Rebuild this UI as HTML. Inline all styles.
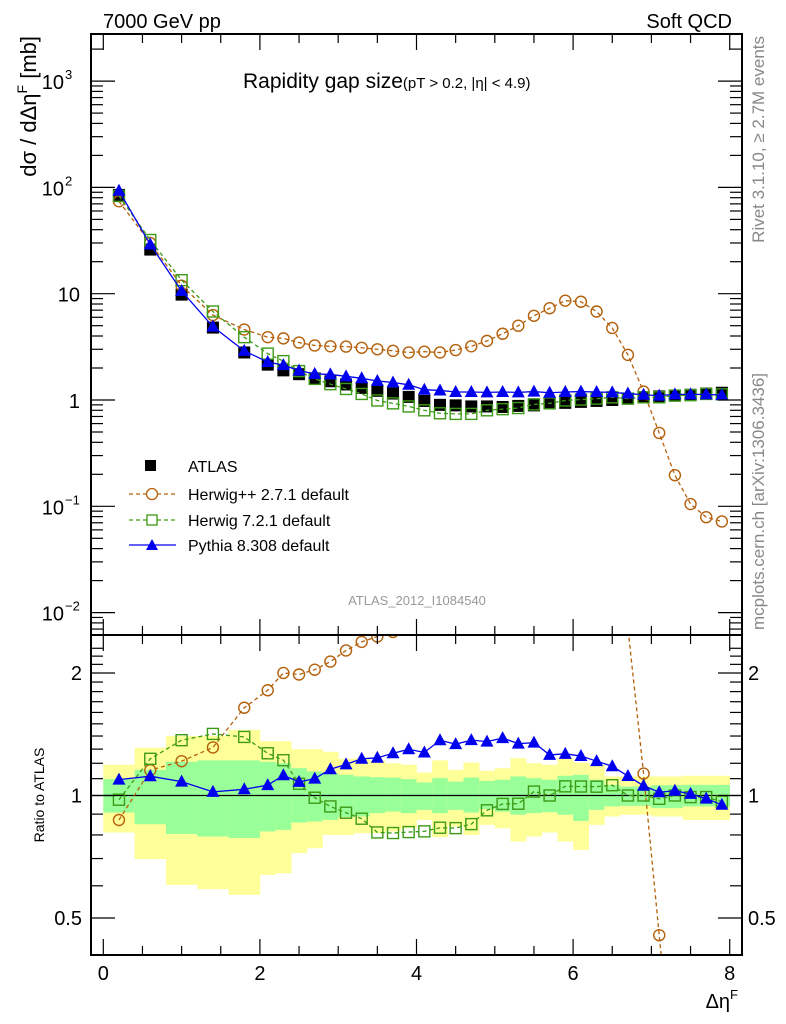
<!DOCTYPE html>
<html><head><meta charset="utf-8"><style>
html,body{margin:0;padding:0;background:#fff;width:786px;height:1024px;overflow:hidden;}
svg{display:block;font-family:"Liberation Sans",sans-serif;}
</style></head><body>
<svg id="chart" width="786" height="1024" viewBox="0 0 786 1024" xmlns="http://www.w3.org/2000/svg">
<rect x="0" y="0" width="786" height="1024" fill="#fff"/>
<g id="bands"></g>
<g id="marks"></g>
<g id="axes"></g>
<text x="103" y="28" font-size="20">7000 GeV pp</text>
<text x="732" y="28" font-size="20" text-anchor="end">Soft QCD</text>
<text x="243" y="88" font-size="21">Rapidity gap size<tspan font-size="15">(pT &gt; 0.2, |η| &lt; 4.9)</tspan></text>
<text transform="translate(36,36) rotate(-90)" font-size="22" text-anchor="end">dσ / dΔη<tspan dy="-9" font-size="14">F</tspan><tspan dy="9"> [mb]</tspan></text>
<text transform="translate(44,795) rotate(-90)" font-size="14" text-anchor="middle">Ratio to ATLAS</text>
<text x="738" y="1008" font-size="20" text-anchor="end">Δη<tspan dy="-9" font-size="13">F</tspan></text>
<text transform="translate(764,36) rotate(-90)" font-size="17" fill="#888" text-anchor="end">Rivet 3.1.10, ≥ 2.7M events</text>
<text transform="translate(764,630) rotate(-90)" font-size="17" fill="#888" text-anchor="start">mcplots.cern.ch [arXiv:1306.3436]</text>
<text x="417" y="605" font-size="13" fill="#999" text-anchor="middle">ATLAS_2012_I1084540</text>
<g id="legend">
<rect x="145" y="460" width="11" height="11" fill="#000"/>
<text x="188" y="472" font-size="16">ATLAS</text>
<line x1="129" y1="494" x2="176" y2="494" stroke="#b5600b" stroke-dasharray="4,3" stroke-width="1.3"/>
<circle cx="152" cy="494" r="5.5" fill="#fff" stroke="#b5600b" stroke-width="1.3"/>
<text x="188" y="500" font-size="16">Herwig++ 2.7.1 default</text>
<line x1="129" y1="520" x2="176" y2="520" stroke="#3c9a16" stroke-dasharray="4,3" stroke-width="1.3"/>
<rect x="147" y="515" width="10" height="10" fill="#fff" stroke="#3c9a16" stroke-width="1.3"/>
<text x="188" y="526" font-size="16">Herwig 7.2.1 default</text>
<line x1="129" y1="545" x2="176" y2="545" stroke="#0000ee" stroke-width="1.3"/>
<polygon points="152,539 158,550 146,550" fill="#0000ee"/>
<text x="188" y="551" font-size="16">Pythia 8.308 default</text>
</g>
</svg>
<script>
const xCenters=[0.2,0.6,1.0,1.4,1.8,2.1,2.3,2.5,2.7,2.9,3.1,3.3,3.5,3.7,3.9,4.1,4.3,4.5,4.7,4.9,5.1,5.3,5.5,5.7,5.9,6.1,6.3,6.5,6.7,6.9,7.1,7.3,7.5,7.7,7.9];
const binEdges=[0,0.4,0.8,1.2,1.6,2.0,2.2,2.4,2.6,2.8,3.0,3.2,3.4,3.6,3.8,4.0,4.2,4.4,4.6,4.8,5.0,5.2,5.4,5.6,5.8,6.0,6.2,6.4,6.6,6.8,7.0,7.2,7.4,7.6,7.8,8.0];
const atlas=[85,26,9.8,4.8,2.8,2.15,1.9,1.75,1.6,1.5,1.4,1.3,1.22,1.15,1.07,0.98,0.9,0.89,0.87,0.87,0.86,0.88,0.89,0.93,0.94,0.96,0.98,1.0,1.03,1.06,1.08,1.1,1.12,1.15,1.17];
const herwigpp=[74,30,11.9,6.3,4.6,3.9,3.8,3.47,3.26,3.2,3.18,3.1,3.0,2.9,2.8,2.85,2.8,2.95,3.2,3.6,4.2,5.0,6.2,7.3,8.6,8.4,6.8,4.76,2.66,1.2,0.49,0.196,0.105,0.079,0.072];
const herwig7=[83,32,13.4,6.8,3.9,2.73,2.32,1.87,1.58,1.41,1.27,1.14,0.99,0.93,0.87,0.8,0.75,0.74,0.74,0.8,0.82,0.84,0.91,0.93,0.99,1.01,1.03,1.06,1.03,1.06,1.06,1.1,1.11,1.14,1.13];
const pythia=[93,29,10.6,4.9,2.9,2.28,2.13,1.89,1.76,1.74,1.67,1.6,1.51,1.46,1.39,1.25,1.23,1.19,1.19,1.18,1.19,1.18,1.2,1.17,1.19,1.2,1.19,1.18,1.15,1.12,1.1,1.13,1.13,1.13,1.11];
const yellowHi=[1.19,1.31,1.40,1.40,1.45,1.36,1.36,1.30,1.30,1.28,1.23,1.235,1.22,1.20,1.19,1.139,1.22,1.156,1.205,1.15,1.167,1.235,1.20,1.19,1.235,1.205,1.19,1.114,1.114,1.114,1.114,1.114,1.118,1.118,1.118];
const yellowLo=[0.811,0.698,0.603,0.589,0.57,0.638,0.644,0.722,0.742,0.80,0.80,0.808,0.808,0.816,0.831,0.871,0.79,0.839,0.80,0.847,0.831,0.771,0.793,0.811,0.771,0.735,0.847,0.888,0.897,0.897,0.888,0.888,0.871,0.871,0.871];
const greenHi=[1.097,1.156,1.21,1.22,1.22,1.21,1.20,1.167,1.146,1.135,1.124,1.114,1.109,1.107,1.097,1.076,1.103,1.082,1.107,1.086,1.093,1.114,1.103,1.093,1.118,1.124,1.093,1.062,1.052,1.052,1.06,1.06,1.062,1.062,1.062];
const greenLo=[0.908,0.85,0.804,0.793,0.786,0.816,0.823,0.858,0.863,0.871,0.885,0.888,0.905,0.913,0.905,0.922,0.905,0.922,0.908,0.926,0.913,0.897,0.905,0.91,0.897,0.866,0.922,0.94,0.943,0.943,0.931,0.931,0.94,0.94,0.94];
const xTicks=[0,2,4,6,8];
const mainTicks=[-2,-1,0,1,2,3];
const mainTickLabels=["10","10","1","10","10","10"];
const mainTickExp=["−2","−1","","","2","3"];
const ratioTicks=[0.5,1,2];
const ratioTickLabels=["0.5","1","2"];

const NS="http://www.w3.org/2000/svg";
const L=91,R=742,T=34,MB=635,RB=955;
const X=v=>103.3+78.3*v;
const Y=v=>400-106.3*Math.log10(v);
const RY=v=>795.5-407*Math.log10(v);
function mk(tag,attrs,parent){const e=document.createElementNS(NS,tag);for(const k in attrs)e.setAttribute(k,attrs[k]);parent.appendChild(e);return e;}
const bands=document.getElementById('bands'),marks=document.getElementById('marks'),axes=document.getElementById('axes');

for(let i=0;i<binEdges.length-1;i++){
  const x1=X(binEdges[i]),x2=X(binEdges[i+1]);
  const y=mk('rect',{x:x1,y:RY(yellowHi[i]),width:x2-x1+0.3,height:RY(yellowLo[i])-RY(yellowHi[i]),fill:'#ffff99'},bands);
  
  
  const g=mk('rect',{x:x1,y:RY(greenHi[i]),width:x2-x1+0.3,height:RY(greenLo[i])-RY(greenHi[i]),fill:'#99ff99'},bands);
  
  
}

const defs=mk('defs',{},marks);
const c1=mk('clipPath',{id:'cm'},defs);mk('rect',{x:L,y:T,width:R-L,height:MB-T},c1);
const c2=mk('clipPath',{id:'cr'},defs);mk('rect',{x:L,y:MB,width:R-L,height:RB-MB},c2);
const gm=mk('g',{'clip-path':'url(#cm)'},marks);


const gr=mk('g',{'clip-path':'url(#cr)'},marks);



const ul=mk('line',{x1:L,x2:R,y1:RY(1),y2:RY(1),stroke:'#000','stroke-width':1.3},gr);



const series=[
 {name:'herwigpp',vals:herwigpp,color:'#b5600b',dash:'4,3',mark:'circle'},
 {name:'herwig7',vals:herwig7,color:'#3c9a16',dash:'4,3',mark:'square'},
 {name:'pythia',vals:pythia,color:'#0000ee',dash:'',mark:'tri'}
];
function marker(s,cx,cy,parent){
  let e;
  if(s.mark==='circle')e=mk('circle',{cx:cx,cy:cy,r:5.5,fill:'none',stroke:s.color,'stroke-width':1.4},parent);
  else if(s.mark==='square')e=mk('rect',{x:cx-5.5,y:cy-5.5,width:11,height:11,fill:'none',stroke:s.color,'stroke-width':1.4},parent);
  else e=mk('polygon',{points:`${cx},${cy-7} ${cx+6.5},${cy+5} ${cx-6.5},${cy+5}`,fill:s.color},parent);
  return e;
}
atlas.forEach((v,i)=>{
  const r=mk('rect',{x:X(xCenters[i])-6,y:Y(v)-6,width:12,height:12,fill:'#000'},gm);
  
  
});
series.forEach(s=>{
  const pm=s.vals.map((v,i)=>`${X(xCenters[i])},${Y(v)}`).join(' ');
  const l=mk('polyline',{points:pm,fill:'none',stroke:s.color,'stroke-width':1.3,'stroke-dasharray':s.dash||'none'},gm);
  
  
  s.vals.forEach((v,i)=>{
    const m=marker(s,X(xCenters[i]),Y(v),gm);
    
    
  });
  const pr=s.vals.map((v,i)=>`${X(xCenters[i])},${RY(v/atlas[i])}`).join(' ');
  const lr=mk('polyline',{points:pr,fill:'none',stroke:s.color,'stroke-width':1.3,'stroke-dasharray':s.dash||'none'},gr);
  
  
  s.vals.forEach((v,i)=>{
    const m=marker(s,X(xCenters[i]),RY(v/atlas[i]),gr);
    
    
  });
});

const f1=mk('rect',{x:L,y:T,width:R-L,height:MB-T,fill:'none',stroke:'#000','stroke-width':2},axes);


const f2=mk('rect',{x:L,y:MB,width:R-L,height:RB-MB,fill:'none',stroke:'#000','stroke-width':2},axes);


for(let k=0;k<=16;k++){
  const v=k*0.5,x=X(v),len=(k%4===0)?16:9;
  [[T,1],[MB,-1],[MB,1],[RB,-1]].forEach(([y0,d])=>{
    mk('line',{x1:x,x2:x,y1:y0,y2:y0+d*len,stroke:'#000','stroke-width':1.2},axes);
  });
}
xTicks.forEach(v=>{
  const t=mk('text',{x:X(v),y:980,'font-size':20,'text-anchor':'middle'},axes);
  t.textContent=String(v);
  
  
});
for(let d=-3;d<=3;d++){
  for(let m=1;m<10;m++){
    const v=m*Math.pow(10,d),y=Y(v);
    if(y<T||y>MB)continue;
    const len=m===1?24:12;
    mk('line',{x1:L,x2:L+len,y1:y,y2:y,stroke:'#000','stroke-width':1.2},axes);
    mk('line',{x1:R,x2:R-len,y1:y,y2:y,stroke:'#000','stroke-width':1.2},axes);
  }
}
mainTicks.forEach((d,i)=>{
  const y=Y(Math.pow(10,d));
  const t=mk('text',{x:mainTickExp[i]?64:80,y:y+8,'font-size':20,'text-anchor':'end'},axes);
  t.textContent=mainTickLabels[i];
  
  
  if(mainTickExp[i]){
    const e=mk('text',{x:65,y:y-2,'font-size':13},axes);
    e.textContent=mainTickExp[i];
    
    
  }
});
for(let v=0.4;v<=2.4;v+=0.1){
  const y=RY(v);if(y<MB||y>RB)continue;
  const major=ratioTicks.some(r=>Math.abs(r-v)<1e-6);
  const len=major?24:12;
  mk('line',{x1:L,x2:L+len,y1:y,y2:y,stroke:'#000','stroke-width':1.2},axes);
  mk('line',{x1:R,x2:R-len,y1:y,y2:y,stroke:'#000','stroke-width':1.2},axes);
}
ratioTicks.forEach((v,i)=>{
  const y=RY(v);
  const t=mk('text',{x:82,y:y+7,'font-size':20,'text-anchor':'end'},axes);
  t.textContent=ratioTickLabels[i];
  
  
  const t2=mk('text',{x:748,y:y+7,'font-size':20},axes);
  t2.textContent=ratioTickLabels[i];
  
  
});
</script>
</body></html>
